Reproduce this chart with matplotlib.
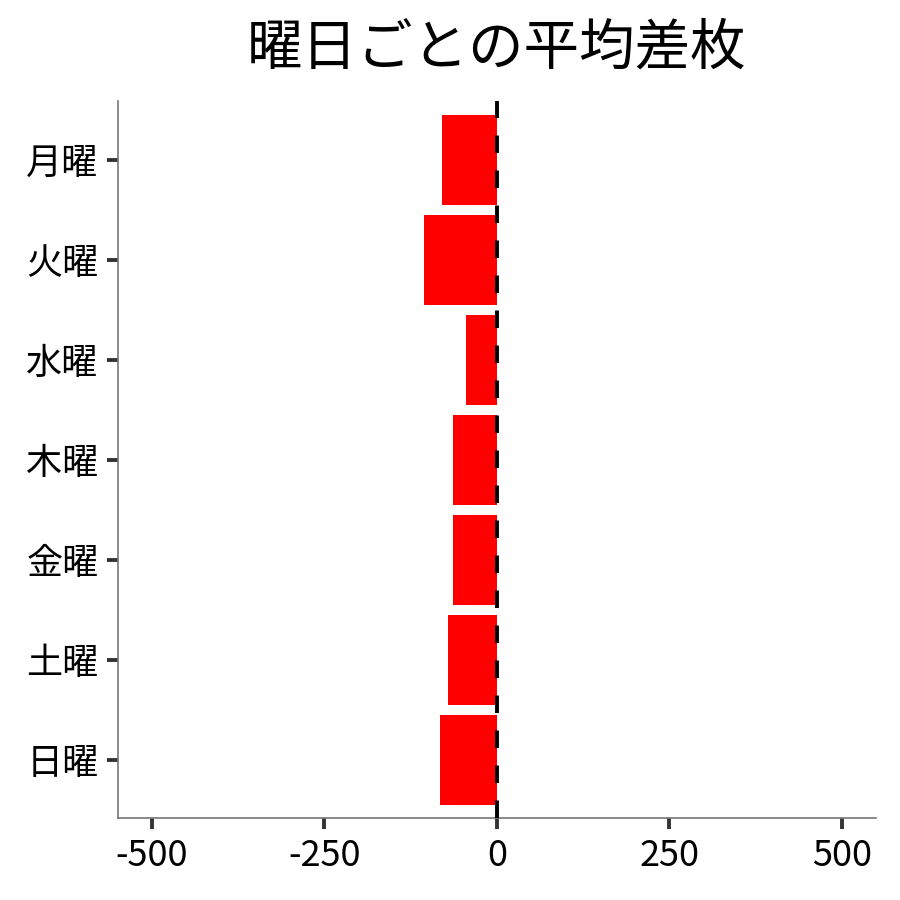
import matplotlib
matplotlib.use("Agg")
import matplotlib.pyplot as plt
import numpy as np

plt.rcParams['font.family'] = ['Noto Sans CJK JP', 'DejaVu Sans']

# 曜日ごとの平均差枚
days = ['月曜', '火曜', '水曜', '木曜', '金曜', '土曜', '日曜']
avg_diff = [-80, -105, -44, -64, -64, -70, -83]
xticks = [-500, -250, 0, 250, 500]

fig = plt.figure(figsize=(9, 9), dpi=100)
ax = fig.add_axes([0.131, 0.091, 0.842, 0.797])

y = np.arange(len(days))
ax.barh(y, avg_diff, height=0.9, color='#ff0000', zorder=2)
ax.axvline(0, color='black', linewidth=2.8, linestyle=(0, (4.5, 4.5)), zorder=3)

ax.set_yticks(y)
ax.set_yticklabels(days)
ax.set_ylim(len(days) - 0.42, -0.59)
ax.set_xticks(xticks)
ax.set_xticklabels([str(v) for v in xticks])
ax.set_xlim(-549, 549)

for s in ['top', 'right']:
    ax.spines[s].set_visible(False)
for s in ['left', 'bottom']:
    ax.spines[s].set_color('#777777')
    ax.spines[s].set_linewidth(1.2)
ax.tick_params(axis='both', colors='#333333', width=2.8, length=8,
               labelsize=26, labelcolor='black', pad=6)

ax.set_title('曜日ごとの平均差枚', fontsize=40, pad=26)

fig.savefig('out.png', dpi=100, facecolor='white')
